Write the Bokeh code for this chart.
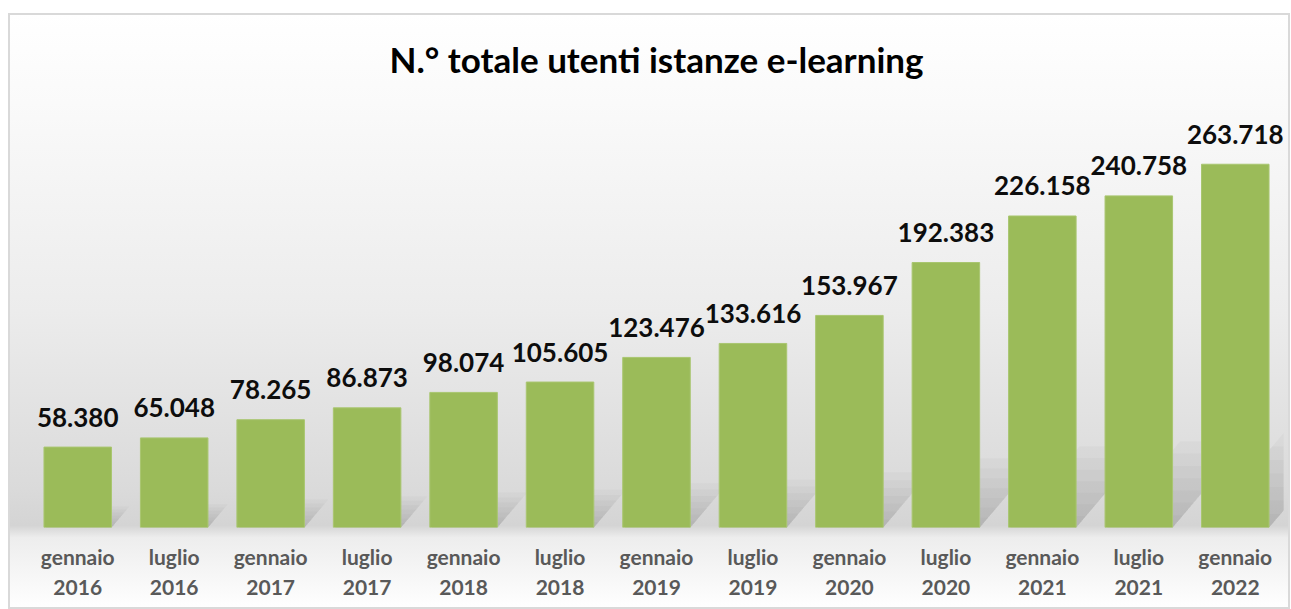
from bokeh.plotting import figure
from bokeh.models import ColumnDataSource, Title, FactorRange, Range1d
from bokeh.core.properties import value
from bokeh.embed import file_html
from bokeh.resources import INLINE

months = ["gennaio", "luglio", "gennaio", "luglio", "gennaio", "luglio", "gennaio",
          "luglio", "gennaio", "luglio", "gennaio", "luglio", "gennaio"]
years = ["2016", "2016", "2017", "2017", "2018", "2018", "2019",
         "2019", "2020", "2020", "2021", "2021", "2022"]
users = [58380, 65048, 78265, 86873, 98074, 105605, 123476,
         133616, 153967, 192383, 226158, 240758, 263718]

cats = [f"{m}\n{y}" for m, y in zip(months, years)]
labels = [f"{v:,}".replace(",", ".") for v in users]
src = ColumnDataSource(dict(cat=cats, users=users, label=labels))

FONT = "Lato"
YMAX = 310000
BAR_W = 0.7

p = figure(width=1282, height=596, x_range=FactorRange(*cats, range_padding=0),
           y_range=Range1d(0, YMAX), output_backend="svg", toolbar_location=None,
           y_axis_location=None,
           min_border_left=21, min_border_right=7, min_border_top=87, min_border_bottom=82,
           styles={"background": "linear-gradient(to bottom, #ffffff 0%, #fafafa 15%, #ececec 50%, #dadada 80%, #d4d4d4 86%, #ededed 88%, #ffffff 100%)",
                   "outline": "2px solid #d9d9d9", "outline-offset": "-2px",
                   "margin-left": "8px", "margin-top": "13px"})
p.border_fill_color = None
p.background_fill_color = None
p.outline_line_color = None
p.grid.visible = False

# soft perspective shadows behind the bars (stacked translucent layers)
frame_w, frame_h = 1254.0, 427.0
cat_px = frame_w / len(cats)
n_layers = 7
for k in range(n_layers):
    frac = 0.26 * (k + 1) / n_layers
    xs, ys = [], []
    for c, v in zip(cats, users):
        h = v * frac
        h_px = h * frame_h / YMAX
        dx = 0.85 * h_px / cat_px
        xs.append([(c, -BAR_W / 2 + 0.02), (c, BAR_W / 2), (c, BAR_W / 2 + dx), (c, -BAR_W / 2 + dx + 0.02)])
        ys.append([0, 0, h, h])
    p.patches(xs=xs, ys=ys, fill_color="#7f7f7f", fill_alpha=0.055, line_color=None)

p.vbar(x="cat", top="users", width=BAR_W, source=src, fill_color="#9bbb59", line_color="#a9c670")
p.text(x="cat", y="users", text="label", source=src, text_align="center",
       text_baseline="alphabetic", y_offset=-30, text_font=value(FONT),
       text_font_style="bold", text_font_size="26px", text_color="#0d0d0d")

ax = p.xaxis[0]
ax.axis_line_color = None
ax.major_tick_line_color = None
ax.minor_tick_line_color = None
ax.major_label_standoff = 10
ax.major_label_text_font = FONT
ax.major_label_text_font_style = "bold"
ax.major_label_text_font_size = "21px"
ax.major_label_text_line_height = 1.23
ax.major_label_text_color = "#595959"

t = Title(text="N.° totale utenti istanze e-learning", align="center",
          text_font=FONT, text_font_style="bold", text_font_size="35px",
          text_color="#000000", standoff=42)
p.add_layout(t, "above")

open("out.html", "w").write(file_html(p, INLINE))
